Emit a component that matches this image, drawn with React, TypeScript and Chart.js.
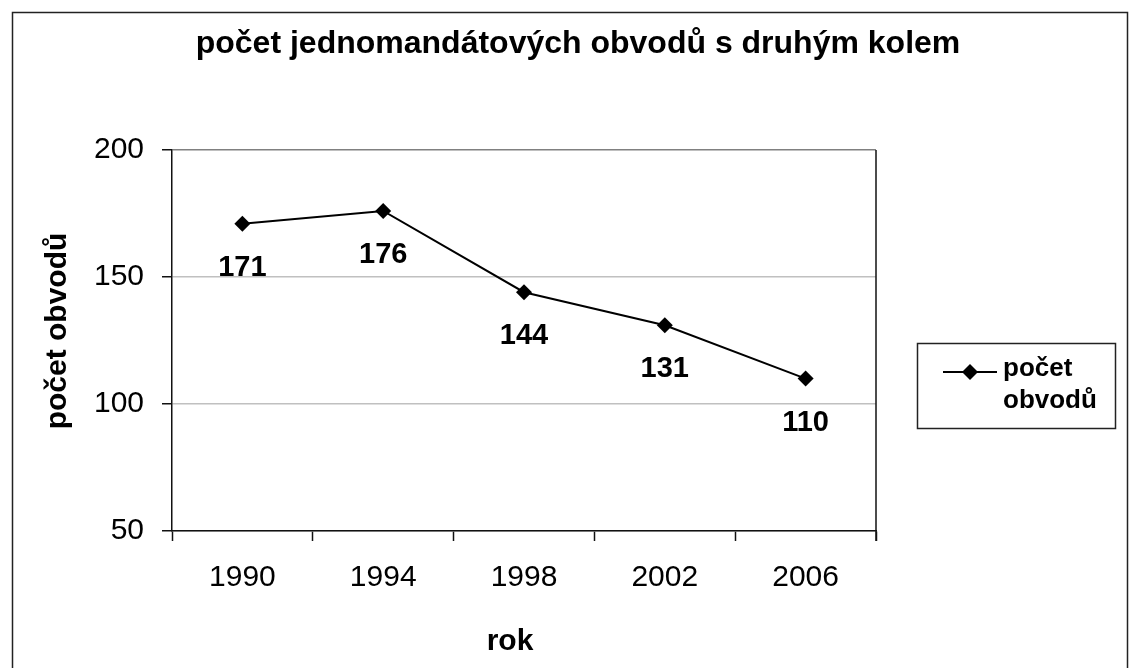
import React, { useEffect, useRef } from "react";
import { Chart, registerables } from "chart.js";

Chart.register(...registerables);

const chartTitle = "počet jednomandátových obvodů s druhým kolem";
const xAxisTitle = "rok";
const yAxisTitle = "počet obvodů";
const seriesLabel = "počet obvodů";
const legendLines = ["počet", "obvodů"];
const categories = ["1990", "1994", "1998", "2002", "2006"];
const values = [171, 176, 144, 131, 110];
const yMin = 50;
const yMax = 200;
const yStep = 50;

const FONT = "'Liberation Sans', Arial, Helvetica, sans-serif";

const decorPlugin = {
  id: "decor",
  beforeDraw(chart: any) {
    const ctx = chart.ctx;
    ctx.save();
    ctx.fillStyle = "#ffffff";
    ctx.fillRect(0, 0, chart.width, chart.height);
    ctx.restore();
  },
  afterDraw(chart: any) {
    const ctx = chart.ctx;
    const area = chart.chartArea;
    ctx.save();
    // outer frame
    ctx.strokeStyle = "#222222";
    ctx.lineWidth = 1.5;
    ctx.strokeRect(12.5, 12.5, 1115, 700);

    // right edge of plot area (down to tick length)
    ctx.strokeStyle = "#111111";
    ctx.lineWidth = 1.5;
    ctx.beginPath();
    ctx.moveTo(area.right, area.top);
    ctx.lineTo(area.right, area.bottom + 10);
    ctx.stroke();

    // title
    ctx.fillStyle = "#000000";
    ctx.font = `bold 32px ${FONT}`;
    ctx.textAlign = "center";
    ctx.textBaseline = "alphabetic";
    ctx.fillText(chartTitle, 578, 53);

    // x axis title
    ctx.font = `bold 30px ${FONT}`;
    ctx.fillText(xAxisTitle, 510, 650);

    // y axis title
    ctx.save();
    ctx.translate(66, 331);
    ctx.rotate(-Math.PI / 2);
    ctx.fillText(yAxisTitle, 0, 0);
    ctx.restore();

    // data labels
    const meta = chart.getDatasetMeta(0);
    ctx.font = `bold 29px ${FONT}`;
    ctx.textAlign = "center";
    meta.data.forEach((pt: any, i: number) => {
      const v = chart.data.datasets[0].data[i];
      ctx.fillText(String(v), pt.x, pt.y + 52);
    });

    // legend
    const lx = 917, ly = 343, lw = 198, lh = 85;
    ctx.strokeStyle = "#222222";
    ctx.lineWidth = 1.5;
    ctx.strokeRect(lx + 0.5, ly + 0.5, lw, lh);
    ctx.strokeStyle = "#000000";
    ctx.lineWidth = 2;
    ctx.beginPath();
    ctx.moveTo(943, 372);
    ctx.lineTo(997, 372);
    ctx.stroke();
    ctx.fillStyle = "#000000";
    ctx.beginPath();
    ctx.moveTo(970, 364);
    ctx.lineTo(978, 372);
    ctx.lineTo(970, 380);
    ctx.lineTo(962, 372);
    ctx.closePath();
    ctx.fill();
    ctx.font = `bold 26px ${FONT}`;
    ctx.textAlign = "left";
    ctx.textBaseline = "alphabetic";
    legendLines.forEach((t, i) => {
      ctx.fillText(t, 1003, 376 + i * 32);
    });
    ctx.restore();
  },
};

export default function App() {
  const ref = useRef<HTMLCanvasElement>(null);
  useEffect(() => {
    if (!ref.current) return;
    const chart = new Chart(ref.current, {
      type: "line",
      data: {
        labels: categories,
        datasets: [
          {
            label: seriesLabel,
            data: values,
            borderColor: "#000000",
            backgroundColor: "#000000",
            borderWidth: 2,
            pointStyle: "rectRot",
            pointRadius: 8,
            pointBackgroundColor: "#000000",
            pointBorderColor: "#000000",
            pointBorderWidth: 0,
            tension: 0,
          },
        ],
      },
      plugins: [decorPlugin],
      options: {
        animation: false,
        responsive: false,
        maintainAspectRatio: false,
        layout: { padding: { left: 0, right: 253, top: 150, bottom: 0 } },
        plugins: {
          legend: { display: false },
          title: { display: false },
          tooltip: { enabled: false },
        },
        scales: {
          x: {
            type: "category",
            offset: true,
            afterFit: (s: any) => {
              s.height = 137;
            },
            grid: {
              offset: true,
              drawOnChartArea: false,
              drawTicks: true,
              tickLength: 10,
              tickColor: "#111111",
              tickWidth: 1.5,
            },
            border: { color: "#111111", width: 1.5 },
            ticks: {
              color: "#000000",
              font: { family: FONT, size: 30 },
              padding: 19,
              maxRotation: 0,
            },
          },
          y: {
            min: yMin,
            max: yMax,
            afterFit: (s: any) => {
              s.width = 172;
            },
            grid: {
              color: (c: any) =>
                c.tick && c.tick.value === yMax ? "#808080" : "#c0c0c0",
              lineWidth: 1.5,
              tickLength: 10,
              tickColor: "#111111",
              tickWidth: 1.5,
            },
            border: { color: "#111111", width: 1.5 },
            ticks: {
              stepSize: yStep,
              color: "#000000",
              font: { family: FONT, size: 30 },
              padding: 18,
            },
          },
        },
      },
    });
    return () => chart.destroy();
  }, []);
  return (
    <div style={{ position: "fixed", left: 0, top: 0, width: 1129, height: 668 }}>
      <canvas ref={ref} width={1129} height={668} style={{ display: "block" }} />
    </div>
  );
}
